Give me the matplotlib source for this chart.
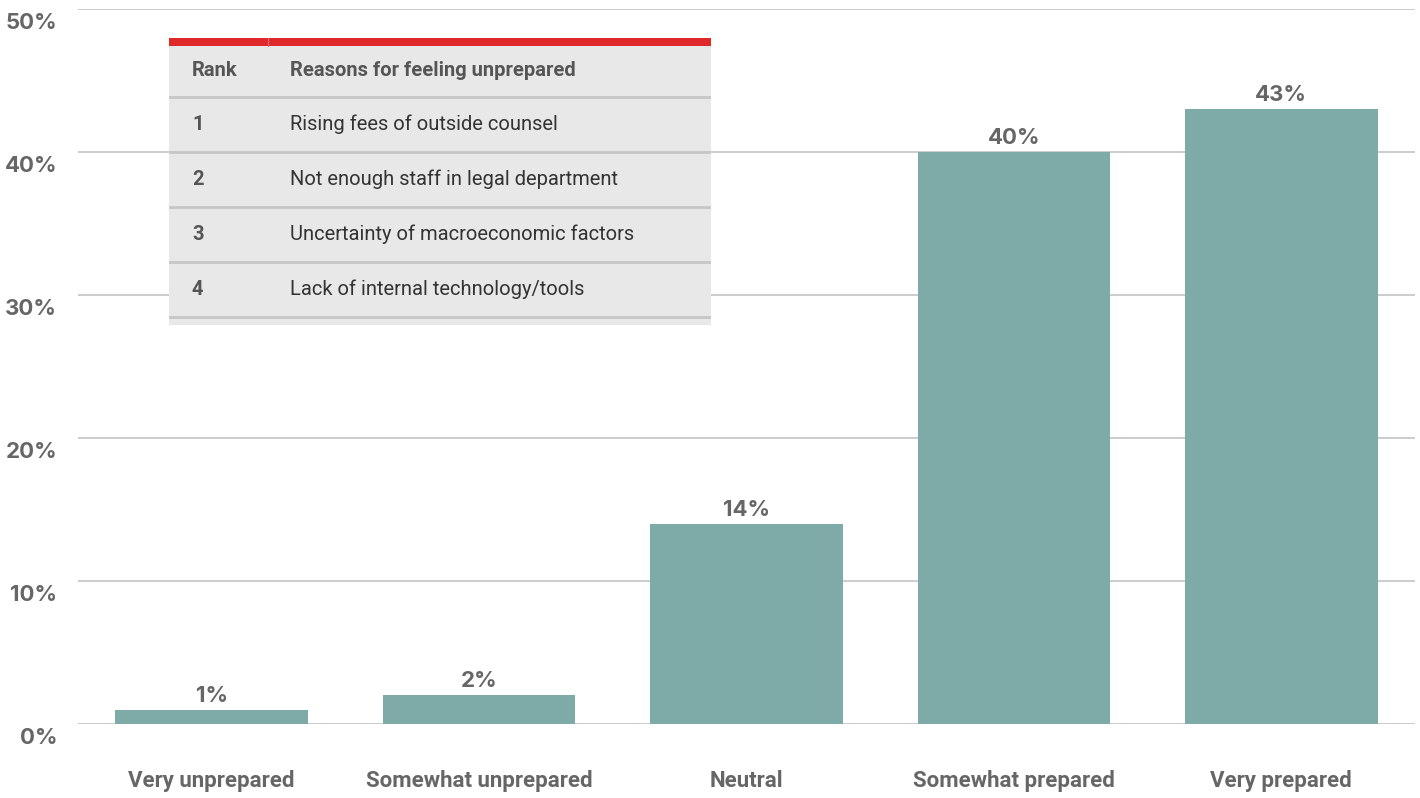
import matplotlib.pyplot as plt
from matplotlib.patches import Rectangle
from matplotlib.transforms import ScaledTranslation

# ---------------- data ----------------
categories = ["Very unprepared", "Somewhat unprepared", "Neutral",
              "Somewhat prepared", "Very prepared"]
values = [1, 2, 14, 40, 43]
yticks = [0, 10, 20, 30, 40, 50]

table_header = ["Rank", "Reasons for feeling unprepared"]
ranks = ["1", "2", "3", "4"]
reasons = ["Rising fees of outside counsel",
           "Not enough staff in legal department",
           "Uncertainty of macroeconomic factors",
           "Lack of internal technology/tools"]

# ---------------- style ----------------
plt.rcParams["font.family"] = ["Roboto", "DejaVu Sans"]
num_font = ["Inter", "Roboto", "DejaVu Sans"]
txt = "#666666"
bar_color = "#7eaaa7"
grid_color = "#c4c4c4"

W, H = 1420, 798
fig = plt.figure(figsize=(W / 100, H / 100), dpi=100)

ax = fig.add_axes([78 / W, (H - 724) / H, (1415 - 78) / W, (724 - 9) / H])

x = range(len(categories))
ax.bar(x, values, width=0.72, color=bar_color, zorder=2)

# value labels above bars
for xi, v in zip(x, values):
    ax.annotate(f"{v}%", (xi, v), xytext=(0, 3), textcoords="offset points",
                ha="center", va="bottom", fontsize=16, fontweight="bold",
                family=num_font, color=txt)

ax.set_xlim(-0.5, len(categories) - 0.5)
ax.set_ylim(0, 50)
ax.set_yticks(yticks)
ax.set_yticklabels([f"{t}%" for t in yticks])
ax.set_xticks(list(x))
ax.set_xticklabels(categories)

ax.grid(axis="y", color=grid_color, linewidth=1.2, zorder=0)
ax.set_axisbelow(True)
for s in ax.spines.values():
    s.set_visible(False)

ax.tick_params(axis="y", length=0, pad=15, labelsize=16, labelcolor=txt)
ax.tick_params(axis="x", length=0, pad=33, labelsize=16, labelcolor=txt)
for lab in ax.get_yticklabels():
    lab.set_fontweight("bold")
    lab.set_family(num_font)
    lab.set_va("top")
    lab.set_transform(lab.get_transform() +
                      ScaledTranslation(0, -3 / 72, fig.dpi_scale_trans))
for lab in ax.get_xticklabels():
    lab.set_fontweight("bold")

# ---------------- inset table ----------------
tx0, ty0, tx1, ty1 = 169, 38, 711, 325
tab = fig.add_axes([tx0 / W, (H - ty1) / H, (tx1 - tx0) / W, (ty1 - ty0) / H],
                   zorder=5)
tw, th = tx1 - tx0, ty1 - ty0
tab.set_xlim(0, tw)
tab.set_ylim(th, 0)
tab.axis("off")

tab.add_patch(Rectangle((0, 0), tw, th, color="#e8e8e8", lw=0))
tab.add_patch(Rectangle((0, 0), tw, 8, color="#e0282a", lw=0))
tab.plot([99, 99], [0, 8], color="#e87070", lw=0.8)

row_h = 55
header_bottom = 59
tab.text(23, 33, table_header[0], fontsize=14.5, fontweight="bold",
         color="#555555", va="center")
tab.text(121, 33, table_header[1], fontsize=14.5, fontweight="bold",
         color="#555555", va="center")
tab.plot([0, tw], [header_bottom, header_bottom], color="#c6c6c6", lw=2)

for i, (r, reason) in enumerate(zip(ranks, reasons)):
    yc = header_bottom + row_h * i + row_h / 2
    tab.text(23, yc, r, fontsize=14.5, fontweight="bold", color="#555555",
             va="center")
    tab.text(121, yc, reason, fontsize=14.5, color="#333333", va="center")
    yb = header_bottom + row_h * (i + 1)
    tab.plot([0, tw], [yb, yb], color="#c6c6c6", lw=2)

fig.savefig("out.png", dpi=100)
